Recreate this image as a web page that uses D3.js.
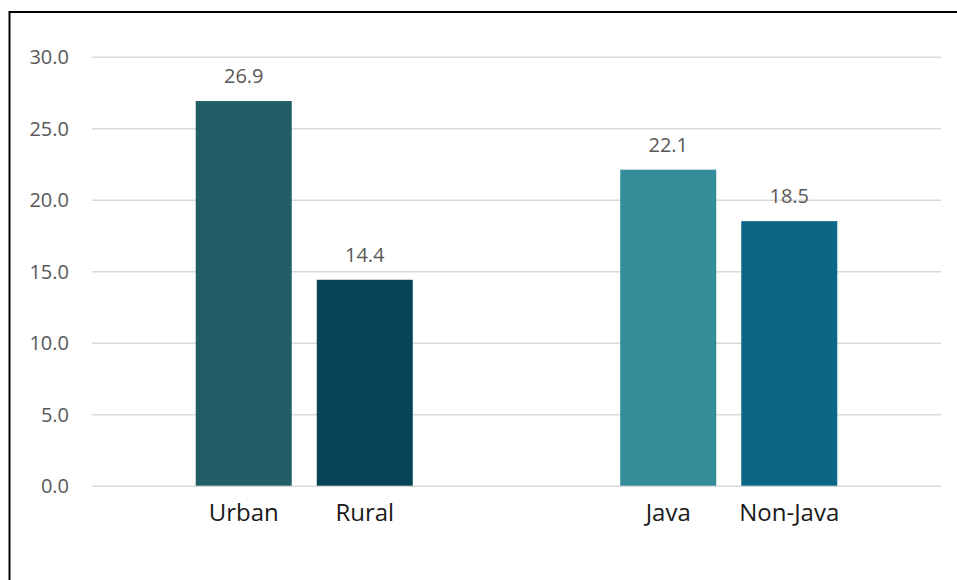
<!DOCTYPE html>
<html>
<head>
<meta charset="utf-8">
<script src="https://cdn.jsdelivr.net/npm/d3@7"></script>
<style>
  html, body { margin: 0; padding: 0; background: #fff; }
  svg { display: block; }
  text { font-family: "Open Sans", "Noto Sans", sans-serif; }
</style>
</head>
<body>
<svg id="chart" width="957" height="580"></svg>
<script>
// Share by area type (urban/rural) and by region (Java/non-Java)
const categories = ["Urban", "Rural", "Java", "Non-Java"];
const groups = ["Residence", "Residence", "Region", "Region"];
const values = [26.9, 14.4, 22.1, 18.5];
const colors = ["#215e66", "#064457", "#358d99", "#0c6787"];
const yTicks = [0, 5, 10, 15, 20, 25, 30];

const svg = d3.select("#chart");
const W = 957, H = 580;
const plot = { left: 92, right: 941, top: 56.7, bottom: 485.7 };

// Outer frame (left and top edges visible)
svg.append("rect")
  .attr("x", 9.5).attr("y", 12)
  .attr("width", W + 20).attr("height", H + 20)
  .attr("fill", "none").attr("stroke", "#000").attr("stroke-width", 2);

const y = d3.scaleLinear().domain([0, 30]).range([plot.bottom, plot.top]);

const groupNames = Array.from(new Set(groups));
const x0 = d3.scaleBand().domain(groupNames).range([plot.left, plot.right]).padding(0);

const indexInGroup = categories.map((c, i) =>
  groups.slice(0, i).filter(g => g === groups[i]).length);
const x1 = d3.scaleBand().domain([0, 1]).range([0, x0.bandwidth()])
  .paddingInner(0.2066).paddingOuter(0.857);

// Gridlines and y axis labels
const yAxis = d3.axisLeft(y).tickValues(yTicks).tickFormat(d3.format(".1f"))
  .tickSize(-(plot.right - plot.left)).tickPadding(23);
const gy = svg.append("g").attr("transform", `translate(${plot.left},0)`).call(yAxis);
gy.select(".domain").remove();
gy.selectAll(".tick line").attr("stroke", "#d9d9d9").attr("stroke-width", 1.5);
gy.selectAll(".tick text").attr("fill", "#595959").attr("font-size", 20)
  .attr("dy", "0.35em");

const data = categories.map((c, i) => ({
  name: c, group: groups[i], value: values[i], color: colors[i], k: indexInGroup[i]
}));

const bx = d => x0(d.group) + x1(d.k);

svg.append("g").selectAll("rect").data(data).join("rect")
  .attr("x", bx)
  .attr("y", d => y(d.value))
  .attr("width", x1.bandwidth())
  .attr("height", d => y(0) - y(d.value))
  .attr("fill", d => d.color);

// Value labels
svg.append("g").selectAll("text").data(data).join("text")
  .attr("x", d => bx(d) + x1.bandwidth() / 2)
  .attr("y", d => y(d.value) - 18)
  .attr("text-anchor", "middle")
  .attr("fill", "#595959").attr("font-size", 20)
  .text(d => d.value.toFixed(1));

// Category labels
svg.append("g").selectAll("text").data(data).join("text")
  .attr("x", d => bx(d) + x1.bandwidth() / 2)
  .attr("y", 521)
  .attr("text-anchor", "middle")
  .attr("fill", "#1a1a1a").attr("font-size", 24)
  .text(d => d.name);
</script>
</body>
</html>
